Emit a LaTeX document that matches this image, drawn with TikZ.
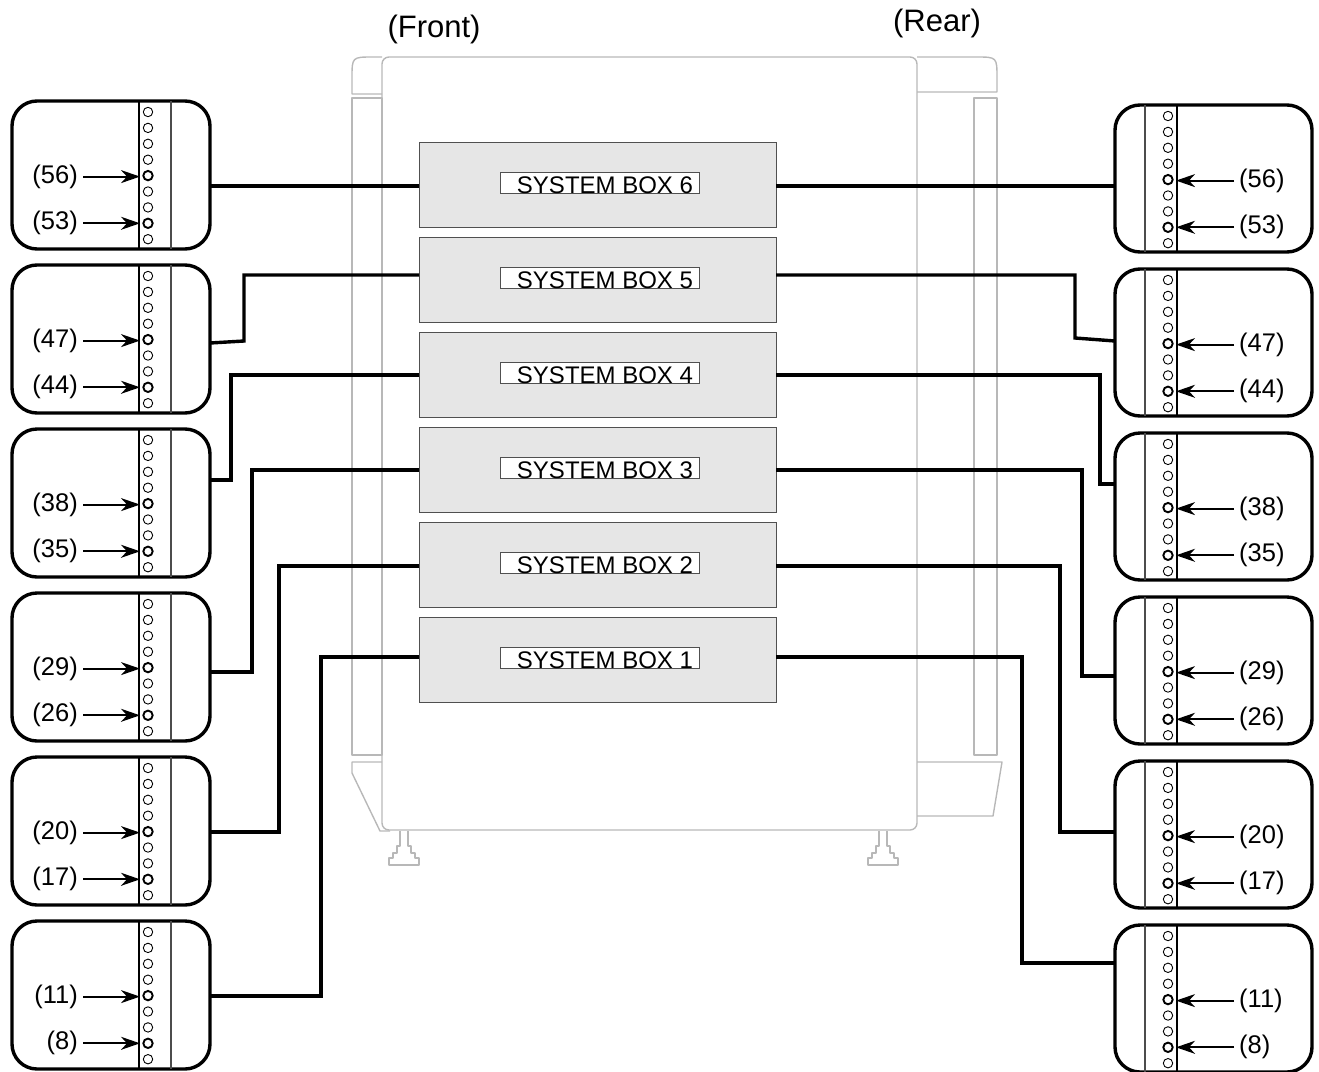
\documentclass[tikz,border=0pt]{standalone}
\usepackage{fontspec}
\setmainfont{Liberation Sans}
\usetikzlibrary{arrows.meta}
\definecolor{cabgray}{HTML}{B8B8B8}
\definecolor{boxfill}{HTML}{E6E6E6}
\definecolor{boxline}{HTML}{505050}
\begin{document}
\begin{tikzpicture}[x=1pt,y=-1pt,
  panel/.style={draw, line width=3.4pt, rounded corners=25pt, minimum width=198pt, minimum height=148pt, inner sep=0pt, outer sep=0pt},
  rpanel/.style={panel, minimum width=197pt, minimum height=147pt},
  stripl/.style={line width=1.2pt},
  stripr/.style={line width=1.3pt, draw=black!70},
  hole/.style={line width=0.9pt},
  holeb/.style={line width=1.9pt},
  arr/.style={line width=1.9pt, -{Stealth[length=19pt,width=13pt,inset=6pt]}},
  lbl/.style={font=\fontsize{25.5}{29}\selectfont, inner sep=0pt},
  toplbl/.style={font=\fontsize{31}{35}\selectfont, inner sep=0pt},
  sysbox/.style={draw=boxline, fill=boxfill, line width=1pt, minimum width=357pt, minimum height=85pt, inner sep=0pt, outer sep=0pt},
  sblabel/.style={draw=boxline, fill=white, line width=1pt, minimum width=199pt, minimum height=21pt, inner sep=0pt},
  sbtext/.style={font=\fontsize{24}{28}\selectfont, inner sep=0pt, anchor=base},
  cab/.style={draw=cabgray, line width=1.4pt, line join=round},
  conn/.style={line width=3.4pt, line join=miter}
]
\useasboundingbox (0,0) rectangle (1319,1071);

% ---------- cabinet ----------
\draw[cab, rounded corners=7pt] (382,57) rectangle (917,830);
\draw[cab] (382,94) -- (352,94) -- (352,78) .. controls (352,57) .. (373,57) -- (382,57);
\draw[cab] (352,98) rectangle (382,755);
\draw[cab] (382,762) -- (352,762) -- (352,773) -- (380,831) -- (390,831);
\draw[cab] (917,57) -- (976,57) .. controls (997,57) .. (997,78) -- (997,92) -- (917,92);
\draw[cab] (974,98) rectangle (997,755);
\draw[cab] (917,762) -- (1002,762) -- (993,816) -- (917,816);
\foreach \cx in {404,883}{
  \draw[cab] (\cx-4,831) -- (\cx-4,846) -- (\cx-7,846) -- (\cx-7,853) -- (\cx-11,853) -- (\cx-11,858) -- (\cx-15,858) -- (\cx-15,865)
     -- (\cx+15,865) -- (\cx+15,858) -- (\cx+11,858) -- (\cx+11,853) -- (\cx+7,853) -- (\cx+7,846) -- (\cx+4,846) -- (\cx+4,831);
}

\node[toplbl] (front) at (434,29) {(Front)};
\node[toplbl] (rear) at (937,23) {(Rear)};

% ---------- system boxes ----------
\foreach \n/\t in {6/142,5/237,4/332,3/427,2/522,1/617}{
  \node[sysbox, anchor=north west] (SB\n) at (419,\t) {};
  \node[sblabel] (SBL\n) at (599.5,\t+40.5) {};
  \node[sbtext] (SBT\n) at (605,\t+51) {SYSTEM BOX \n};
}

% ---------- left panels ----------
\foreach \i/\a/\b in {1/56/53,2/47/44,3/38/35,4/29/26,5/20/17,6/11/8}{
  \pgfmathsetmacro\t{101+164*(\i-1)}
  \node[panel, anchor=north west] (L\i) at (12,\t) {};
  \draw[stripl] (139,\t) -- (139,\t+148);
  \draw[stripr] (171,\t) -- (171,\t+148);
  \foreach \k in {0,1,2,3,5,6,8}{
    \draw[hole] (148,{\t+11+15.9*\k}) circle[radius=4.7];
  }
  \draw[holeb] (148,{\t+11+15.9*4}) circle[radius=4.7];
  \draw[holeb] (148,{\t+11+15.9*7}) circle[radius=4.7];
  \node[lbl, anchor=east] (LA\i) at (78,{\t+75.6}) {(\a)};
  \node[lbl, anchor=east] (LB\i) at (78,{\t+122.3}) {(\b)};
  \draw[arr] (LA\i.east) ++(5,0) -- (140,{\t+75.6});
  \draw[arr] (LB\i.east) ++(5,0) -- (140,{\t+122.3});
}

% ---------- right panels ----------
\foreach \i/\a/\b in {1/56/53,2/47/44,3/38/35,4/29/26,5/20/17,6/11/8}{
  \pgfmathsetmacro\t{105+164*(\i-1)}
  \node[rpanel, anchor=north west] (R\i) at (1115,\t) {};
  \draw[stripr] (1145,\t) -- (1145,\t+147);
  \draw[stripl] (1177,\t) -- (1177,\t+147);
  \foreach \k in {0,1,2,3,5,6,8}{
    \draw[hole] (1168,{\t+11+15.9*\k}) circle[radius=4.7];
  }
  \draw[holeb] (1168,{\t+11+15.9*4}) circle[radius=4.7];
  \draw[holeb] (1168,{\t+11+15.9*7}) circle[radius=4.7];
  \node[lbl, anchor=west] (RA\i) at (1239,{\t+75.6}) {(\a)};
  \node[lbl, anchor=west] (RB\i) at (1239,{\t+122.3}) {(\b)};
  \draw[arr] (RA\i.west) ++(-5,0) -- (1176,{\t+75.6});
  \draw[arr] (RB\i.west) ++(-5,0) -- (1176,{\t+122.3});
}

% ---------- connectors, left ----------
\draw[conn] (SB6.west |- 0,186) -- (L1.east |- 0,186);
\draw[conn] (SB5.west |- 0,275) -| (244,341) -- (L2.east |- 0,343);
\draw[conn] (SB4.west |- 0,375) -| (231,480) -- (L3.east |- 0,480);
\draw[conn] (SB3.west |- 0,470) -| (252,672) -- (L4.east |- 0,672);
\draw[conn] (SB2.west |- 0,566) -| (279,832) -- (L5.east |- 0,832);
\draw[conn] (SB1.west |- 0,657) -| (321,996) -- (L6.east |- 0,996);

% ---------- connectors, right ----------
\draw[conn] (SB6.east |- 0,186) -- (R1.west |- 0,186);
\draw[conn] (SB5.east |- 0,275) -| (1075,338) -- (R2.west |- 0,341);
\draw[conn] (SB4.east |- 0,375) -| (1100,484) -- (R3.west |- 0,484);
\draw[conn] (SB3.east |- 0,470) -| (1082,676) -- (R4.west |- 0,676);
\draw[conn] (SB2.east |- 0,566) -| (1060,832) -- (R5.west |- 0,832);
\draw[conn] (SB1.east |- 0,657) -| (1022,963) -- (R6.west |- 0,963);
\end{tikzpicture}
\end{document}
